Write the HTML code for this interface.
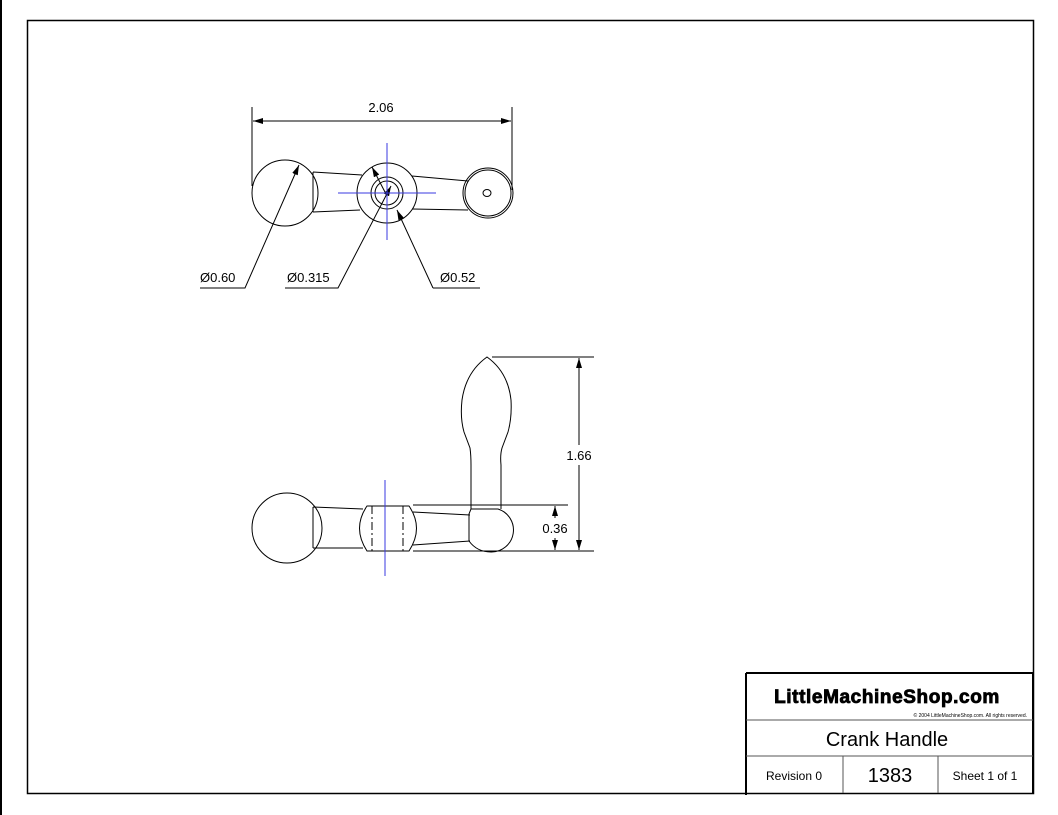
<!DOCTYPE html>
<html><head><style>
html,body{margin:0;padding:0;background:#fff;width:1058px;height:815px;overflow:hidden}
svg{display:block}
text{font-family:"Liberation Sans",sans-serif;fill:#000}
</style></head><body>
<svg width="1058" height="815" viewBox="0 0 1058 815">
<defs>
<marker id="a" viewBox="0 0 10 6" refX="10" refY="3" markerWidth="10" markerHeight="6" markerUnits="userSpaceOnUse" orient="auto-start-reverse"><path d="M0,0L10,3L0,6z" fill="#000"/></marker>
</defs>
<line x1="1" y1="0" x2="1" y2="815" stroke="#000" stroke-width="2"/>
<rect x="27.5" y="20.5" width="1006" height="773" fill="none" stroke="#000" stroke-width="1.5"/>
<g fill="none" stroke="#000" stroke-width="1">
<!-- top view -->
<line x1="252" y1="107" x2="252" y2="186"/>
<line x1="512" y1="107" x2="512" y2="190"/>
<line x1="253" y1="121" x2="511" y2="121" marker-start="url(#a)" marker-end="url(#a)"/>
<circle cx="285" cy="193" r="33"/>
<path d="M313,172L362,175M313,212L360,210M313,172V212"/>
<circle cx="387" cy="193" r="30"/>
<circle cx="387" cy="193" r="16"/>
<circle cx="387" cy="193" r="12"/>
<path d="M412,176L468,181M412,209L468,210"/>
<circle cx="488" cy="193" r="25"/>
<circle cx="488" cy="193" r="23"/>
<ellipse cx="487" cy="193" rx="4" ry="3.5"/>
<path d="M200,288H245L299,165" marker-end="url(#a)"/>
<path d="M285,288H338L391,186" marker-end="url(#a)"/>
<path d="M433,288H480M433,288L397,210" marker-end="url(#a)"/>
<line x1="386" y1="194" x2="372" y2="167" marker-end="url(#a)"/>
<!-- side view -->
<circle cx="287" cy="528" r="35"/>
<path d="M313,507L363,509M313,548L363,548M313,507V548"/>
<path d="M367,506H409Q424,528 409,551H367Q352,528 367,506Z"/>
<path d="M372,506V551M403,506V551" stroke-dasharray="8,3,2,3"/>
<path d="M413,512L470,515M413,545L470,541"/>
<path d="M469,514V541Q477,552 491,552A22,22 0 0 0 498,509H471Z"/>
<path d="M471,509V465Q471,455 470,448Q467,440 464,432Q460,418 462,400Q466,372 487,357Q508,372 511,400Q512,418 508,432Q505,440 502,448Q500,455 501,465V509"/>
<line x1="492" y1="357" x2="594" y2="357"/>
<line x1="413" y1="505" x2="568" y2="505"/>
<line x1="413" y1="551" x2="594" y2="551"/>
<line x1="579" y1="358" x2="579" y2="445" marker-start="url(#a)"/>
<line x1="579" y1="465" x2="579" y2="550" marker-end="url(#a)"/>
<line x1="555" y1="506" x2="555" y2="518" marker-start="url(#a)"/>
<line x1="555" y1="538" x2="555" y2="550" marker-end="url(#a)"/>
</g>
<g stroke="#3a3ae0" stroke-width="1" fill="none">
<line x1="338" y1="193" x2="436" y2="193"/>
<line x1="387" y1="143" x2="387" y2="240"/>
<line x1="385" y1="480" x2="385" y2="576"/>
</g>
<g font-size="13">
<text x="381" y="112" text-anchor="middle">2.06</text>
<text x="200" y="282">Ø0.60</text>
<text x="287" y="282">Ø0.315</text>
<text x="440" y="282">Ø0.52</text>
<text x="579" y="460" text-anchor="middle" style="paint-order:stroke" stroke="#fff" stroke-width="4">1.66</text>
<text x="555" y="533" text-anchor="middle">0.36</text>
</g>
<!-- title block -->
<g stroke="#000" fill="none">
<path d="M746,673H1033V793" stroke-width="2"/>
<line x1="746" y1="673" x2="746" y2="795" stroke-width="2"/>
<line x1="746" y1="720" x2="1033" y2="720" stroke="#555"/>
<line x1="746" y1="756" x2="1033" y2="756" stroke="#555"/>
<line x1="843" y1="756" x2="843" y2="793" stroke="#555"/>
<line x1="938" y1="756" x2="938" y2="793" stroke="#555"/>
</g>
<text x="887" y="703" text-anchor="middle" font-size="19" font-weight="bold" stroke="#000" stroke-width="0.8" style="letter-spacing:0.6px">LittleMachineShop.com</text>
<text x="1027" y="717" text-anchor="end" font-size="5">© 2004 LittleMachineShop.com. All rights reserved.</text>
<text x="887" y="746" text-anchor="middle" font-size="20">Crank Handle</text>
<text x="794" y="780" text-anchor="middle" font-size="12">Revision 0</text>
<text x="890" y="782" text-anchor="middle" font-size="20">1383</text>
<text x="985" y="780" text-anchor="middle" font-size="12">Sheet 1 of 1</text>
</svg>
</body></html>
